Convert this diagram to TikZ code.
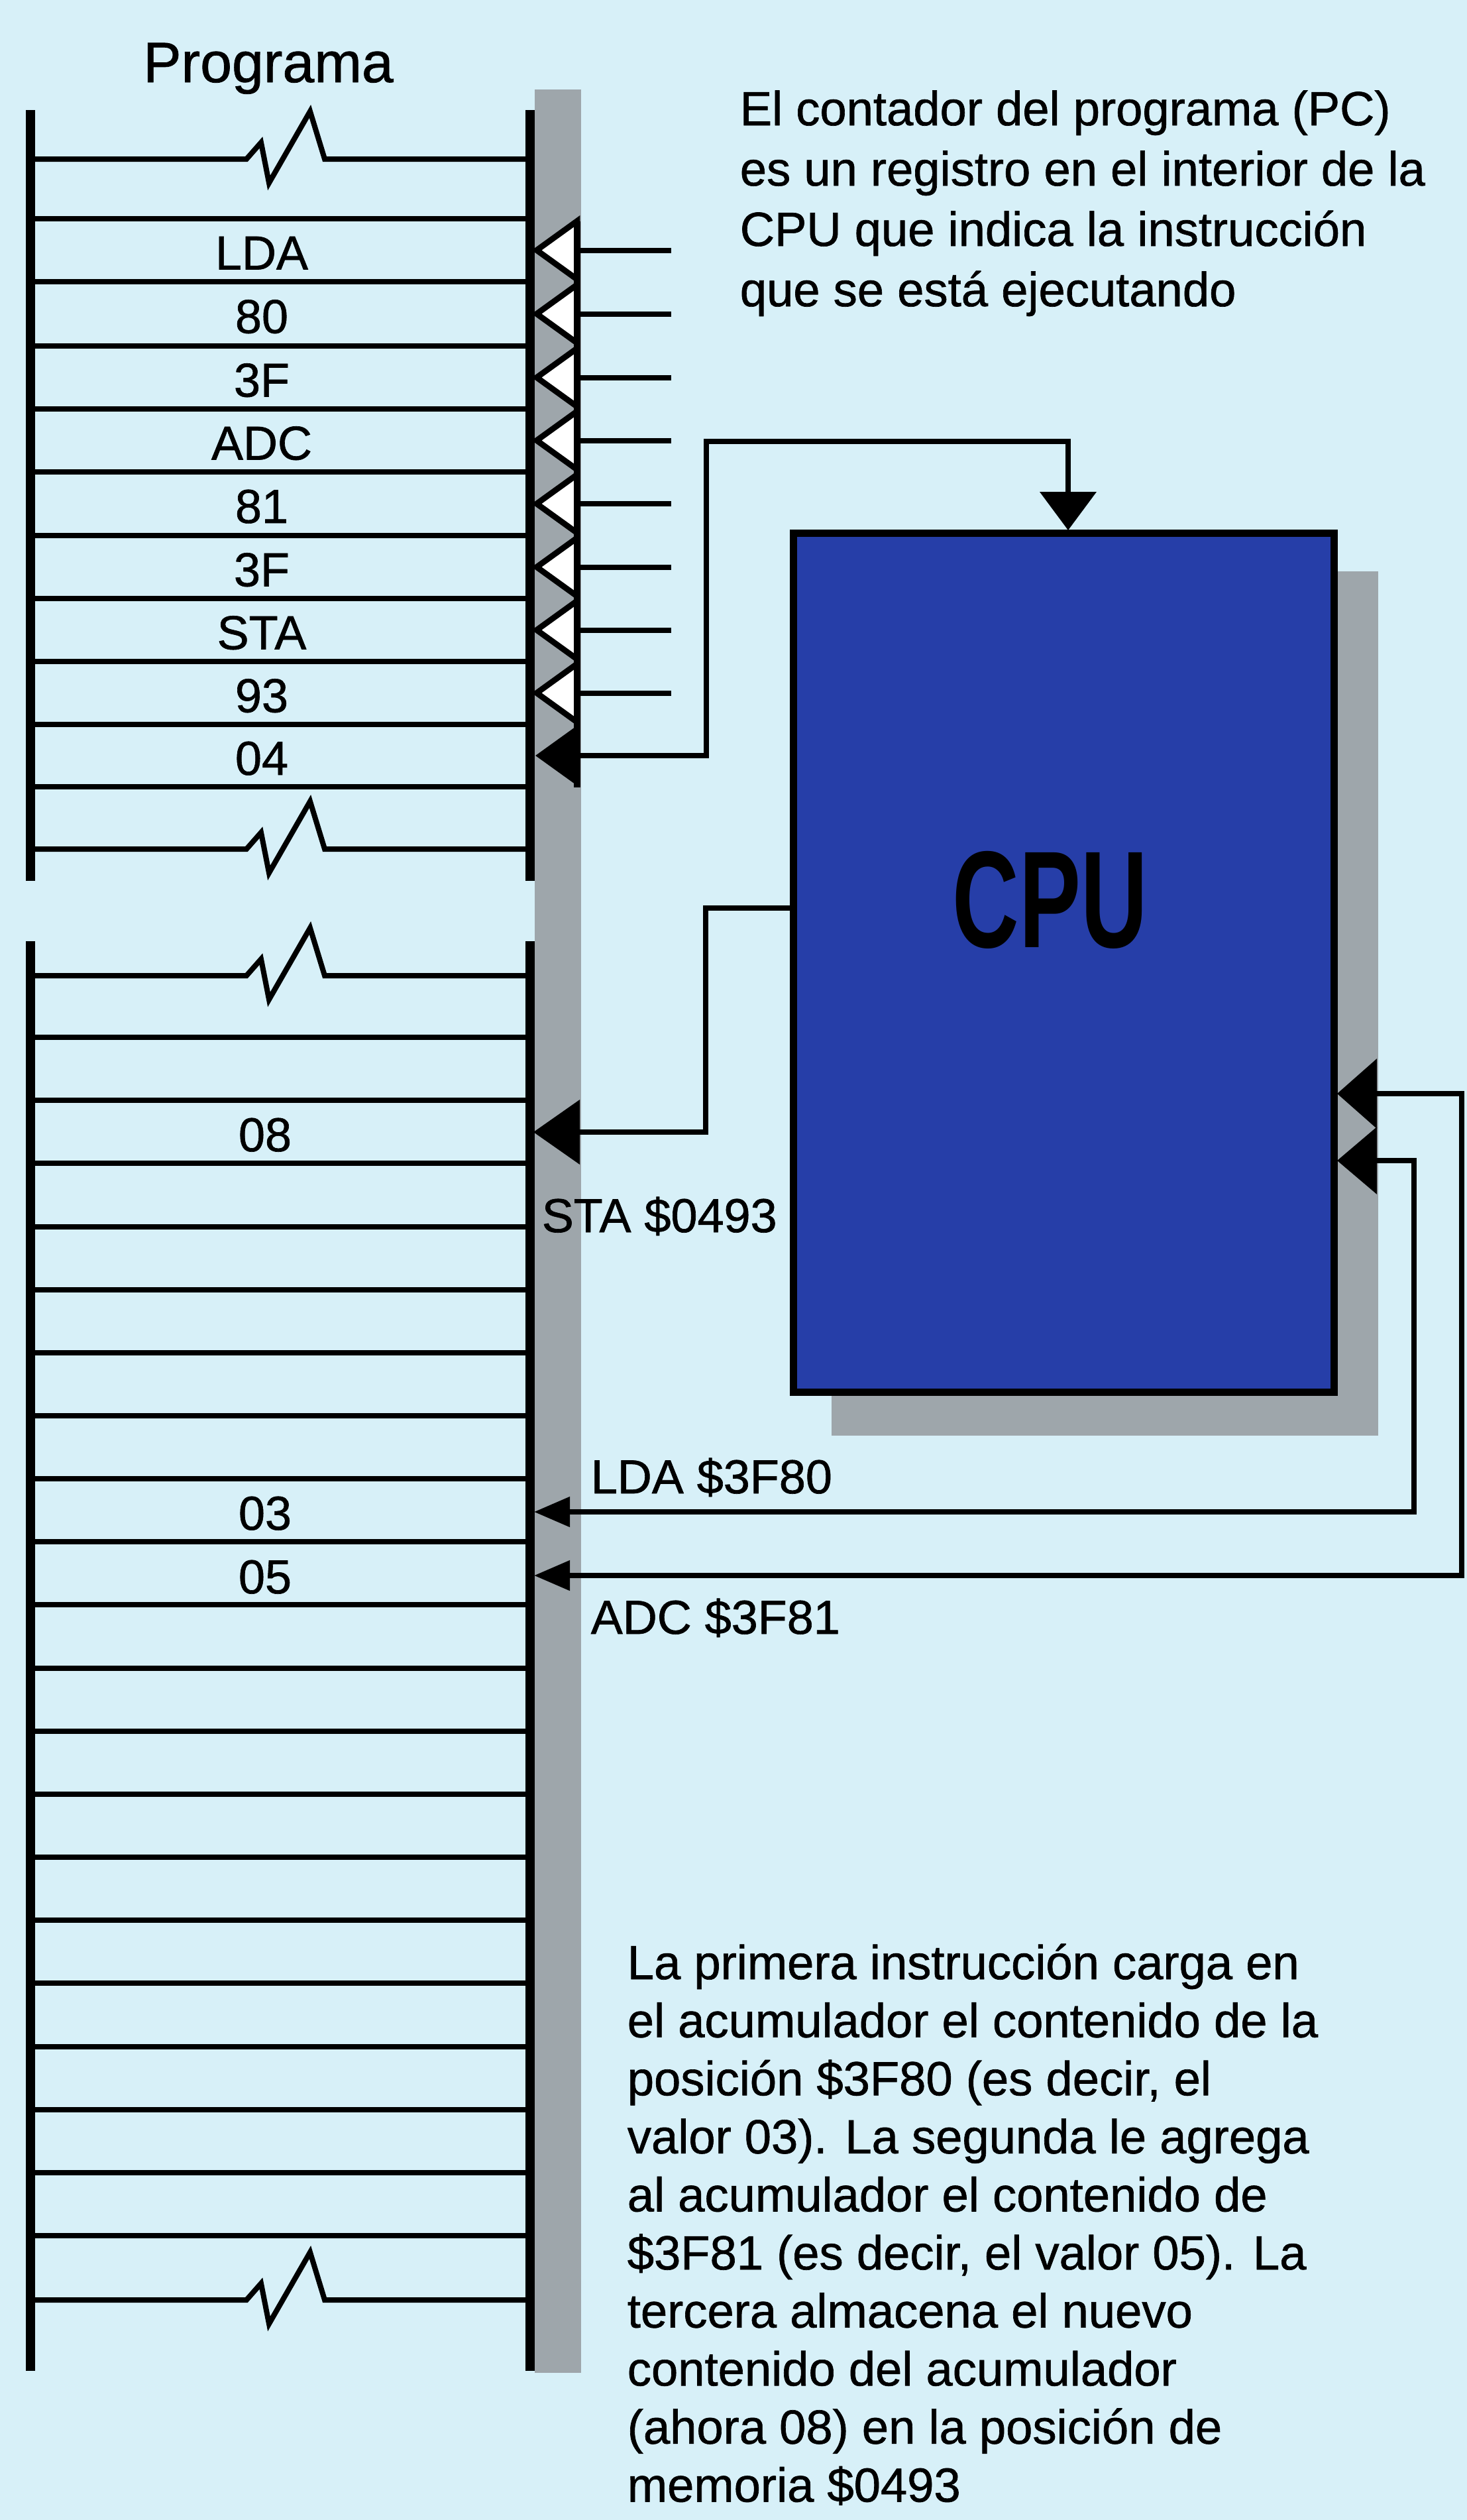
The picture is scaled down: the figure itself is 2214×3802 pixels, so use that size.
\documentclass[tikz,border=0pt]{standalone}
\usepackage{fontspec}
\usepackage{graphicx}
\setmainfont{Liberation Sans}[FakeBold=0.9]
\newfontfamily\cpufont{Liberation Sans Bold}
\usetikzlibrary{arrows.meta}
\definecolor{bg}{RGB}{215,240,248}
\definecolor{cpublue}{RGB}{38,62,168}
\definecolor{stripgray}{RGB}{158,166,171}
\begin{document}
\begin{tikzpicture}[x=0.25pt,y=-0.25pt,
  memline/.style={line width=2pt},
  rail/.style={line width=3.5pt},
  conn/.style={line width=2pt},
  lbl/.style={font=\fontsize{18}{18}\selectfont,inner sep=0pt,anchor=base},
  addr/.style={font=\fontsize{18}{18}\selectfont,inner sep=0pt,anchor=base west},
  tri/.style={fill=white,draw=black,line width=2.2pt,line join=miter},
  stub/.style={line width=2pt},
  zig/.style={line width=2pt,line join=miter}]
\useasboundingbox (0,0) rectangle (2214,3802);
\fill[bg] (0,0) rectangle (2214,3802);

% grey strip beside the memory
\fill[stripgray] (807,135) rectangle (877,3580);

% CPU shadow and box
\fill[stripgray] (1255,862) rectangle (2080,2166);
\node[draw,line width=2.75pt,fill=cpublue,minimum width=204pt,minimum height=324pt,inner sep=0pt] (cpu) at (1605,1452) {};
\node[font=\fontsize{52}{52}\cpufont,inner sep=0pt,anchor=base] (cpulabel) at (1585,1429) {\scalebox{0.67}[1]{CPU}};

% title
\node[font=\fontsize{21.5}{21.5}\selectfont,inner sep=0pt,anchor=base] (title) at (405,124) {Programa};

% memory: section 1
\draw[rail] (46,166) -- (46,1329);
\draw[rail] (800,166) -- (800,1329);
\foreach \y in {330,425,522,617,712,808,903,998,1093,1187}
  \draw[memline] (46,\y) -- (800,\y);
\foreach \y in {240,1281}
  \draw[zig] (46,\y) -- (372,\y) -- (394,{\y-25}) -- (406,{\y+36}) -- (468,{\y-72}) -- (490,\y) -- (800,\y);

% memory: section 2
\draw[rail] (46,1420) -- (46,3577);
\draw[rail] (800,1420) -- (800,3577);
\foreach \k in {0,...,19}
  \draw[memline] (46,{1565+95.16*\k}) -- (800,{1565+95.16*\k});
\foreach \y in {1472,3470}
  \draw[zig] (46,\y) -- (372,\y) -- (394,{\y-25}) -- (406,{\y+36}) -- (468,{\y-72}) -- (490,\y) -- (800,\y);

% memory contents
\foreach \t/\c [count=\i] in {LDA/377.5,80/473.5,3F/569.5,ADC/664.5,81/760,3F/855.5,STA/950.5,93/1045.5,04/1140}
  \node[lbl] (lab\i) at (395,{\c+29}) {\t};
\node[lbl] (lab08) at (400,1737) {08};
\node[lbl] (lab03) at (400,2308) {03};
\node[lbl] (lab05) at (400,2404) {05};

% program counter triangles
\foreach \c in {377.5,473.5,569.5,664.5,760,855.5,950.5,1045.5} {
  \draw[tri] (871,{\c-44}) -- (810,\c) -- (871,{\c+44}) -- cycle;
  \draw[stub] (871,\c) -- (1013,\c);
}
\draw[line width=2.5pt] (871,334) -- (871,1188);

% connectors
\coordinate (m04) at (808,1140);
\coordinate (cpuTop) at (1612,800);
\draw[conn,line join=miter,{Triangle[length=16pt,width=22.5pt]}-{Triangle[length=14.5pt,width=21pt]}]
  (m04) -- (1066,1140) -- (1066,666) -- (1612,666) -- (cpuTop);

\coordinate (cpuL) at (1197,1370);
\coordinate (m08) at (805,1708);
\draw[conn,line join=miter,-{Triangle[length=17.5pt,width=24pt]}]
  (cpuL) -- (1065,1370) -- (1065,1708) -- (m08);

\coordinate (m03) at (806,2281);
\coordinate (cpuR2) at (2018,1751);
\draw[conn,line join=miter,{Triangle[length=13.5pt,width=11pt]}-{Triangle[length=15pt,width=25pt]}]
  (m03) -- (2134,2281) -- (2134,1751) -- (cpuR2);

\coordinate (m05) at (806,2377);
\coordinate (cpuR1) at (2018,1650);
\draw[conn,line join=miter,{Triangle[length=13.5pt,width=11pt]}-{Triangle[length=15pt,width=26pt]}]
  (m05) -- (2206,2377) -- (2206,1650) -- (cpuR1);

% address labels
\node[addr] (aSTA) at (817,1859) {STA \$0493};
\node[addr] (aLDA) at (891,2253) {LDA \$3F80};
\node[addr] (aADC) at (891,2465) {ADC \$3F81};

% notes
\node[anchor=base west,inner sep=0pt] (pcnote) at (1116,189) {\parbox[t]{300pt}{\fontsize{18.1}{22.75}\selectfont\raggedright El contador del programa (PC)\\es un registro en el interior de la\\CPU que indica la instrucción\\que se está ejecutando}};
\node[anchor=base west,inner sep=0pt] (note2) at (946,2986) {\parbox[t]{300pt}{\fontsize{18.1}{21.9}\selectfont\raggedright La primera instrucción carga en\\el acumulador el contenido de la\\posición \$3F80 (es decir, el\\valor 03). La segunda le agrega\\al acumulador el contenido de\\\$3F81 (es decir, el valor 05). La\\tercera almacena el nuevo\\contenido del acumulador\\(ahora 08) en la posición de\\memoria \$0493}};
\end{tikzpicture}
\end{document}
